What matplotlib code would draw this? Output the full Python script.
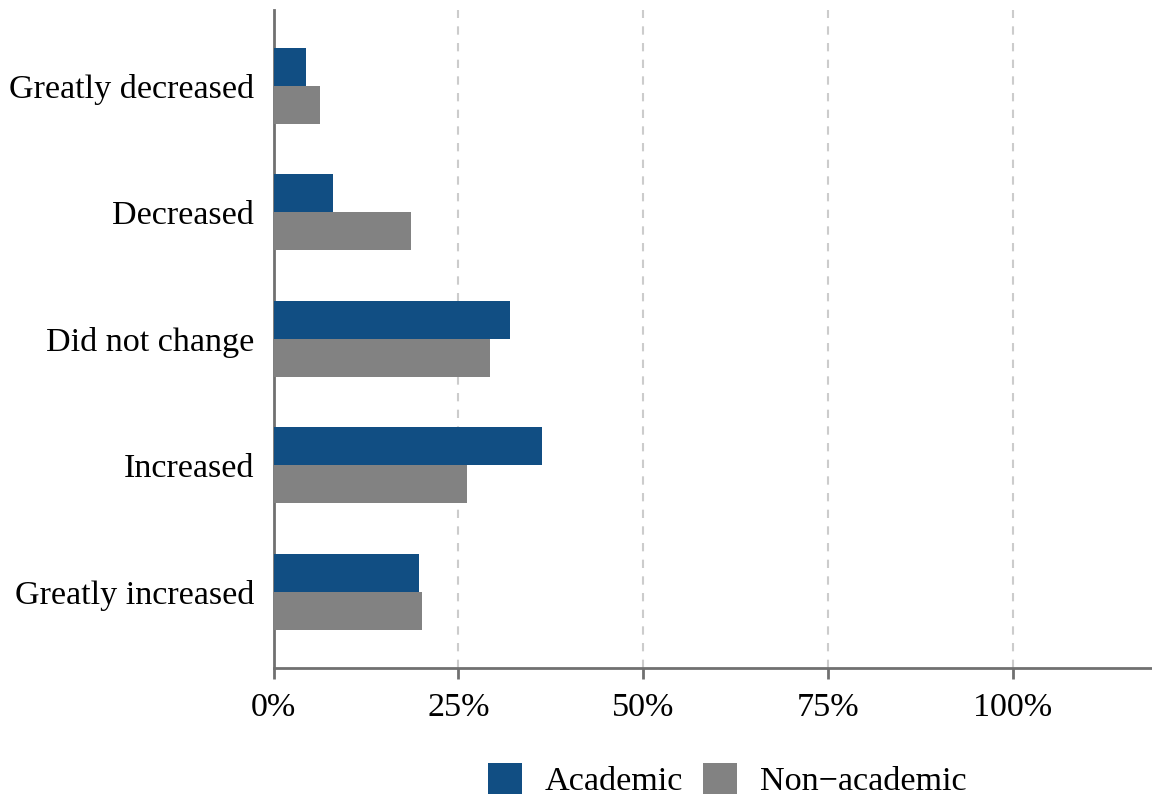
import numpy as np
import matplotlib
matplotlib.use("Agg")
import matplotlib.pyplot as plt

# data (percent)
categories = ["Greatly decreased", "Decreased", "Did not change", "Increased", "Greatly increased"]
academic = [4.4, 8.0, 32.0, 36.3, 19.7]
non_academic = [6.3, 18.6, 29.3, 26.1, 20.1]
series_names = ["Academic", "Non\u2212academic"]
xticks = [0, 25, 50, 75, 100]
xtick_labels = ["0%", "25%", "50%", "75%", "100%"]

blue = "#114e83"
grey = "#828282"
axis_col = "#707070"
fs = 24.6

plt.rcParams["font.family"] = ["Liberation Serif", "DejaVu Serif"]

fig = plt.figure(figsize=(11.52, 7.97), dpi=100)
ax = fig.add_axes([273.5 / 1152, 1 - 667.7 / 797, 1 - 273.5 / 1152, (667.7 - 10) / 797])

y = np.arange(len(categories))
h = 0.3
ax.barh(y - h / 2, academic, height=h, color=blue, label=series_names[0], zorder=3)
ax.barh(y + h / 2, non_academic, height=h, color=grey, label=series_names[1], zorder=3)

ax.set_ylim(len(categories) - 0.4, -0.6)
ax.set_xlim(0, 118.8)
ax.set_yticks(y)
ax.set_yticklabels(categories, fontsize=fs)
ax.set_xticks(xticks)
ax.set_xticklabels(xtick_labels, fontsize=fs)

# dashed vertical grid
for xv in xticks[1:]:
    ax.axvline(xv, color="#cccccc", linestyle=(0, (4, 4)), linewidth=1.5, zorder=1)

for side in ["top", "right"]:
    ax.spines[side].set_visible(False)
for side in ["left", "bottom"]:
    ax.spines[side].set_color(axis_col)
    ax.spines[side].set_linewidth(2)

ax.tick_params(axis="y", length=0, pad=14)
ax.tick_params(axis="x", length=8, width=2, color=axis_col, pad=10)

fig.legend(loc="center left", bbox_to_anchor=(488 / 1152, 0.0215), ncol=2,
           frameon=False, fontsize=fs, borderpad=0, borderaxespad=0,
           handlelength=1.0, handleheight=1.05, handletextpad=0.65, columnspacing=0.6)

fig.savefig("out.png", dpi=100)
